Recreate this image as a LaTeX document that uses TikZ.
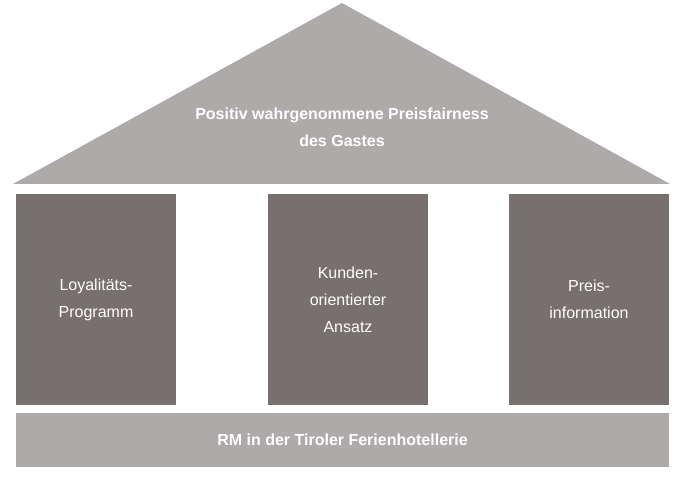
\documentclass[tikz,border=0pt]{standalone}
\usepackage{fontspec}
\setmainfont{Liberation Sans}
\definecolor{rooffill}{HTML}{AEAAA9}
\definecolor{pillarfill}{HTML}{78706F}
\tikzset{
  pillar/.style={fill=pillarfill, minimum width=160pt, minimum height=211pt,
                 inner sep=0pt, text=white, align=center,
                 font=\fontsize{16}{27}\selectfont},
  basebox/.style={fill=rooffill, minimum width=653pt, minimum height=54pt,
                  inner sep=0pt, text=white, font=\bfseries\fontsize{16}{27}\selectfont},
  rooftext/.style={text=white, align=center, font=\bfseries\fontsize{16}{27}\selectfont},
}

\begin{document}
\begin{tikzpicture}[x=1pt, y=-1pt]
    \useasboundingbox (0,0) rectangle (683,478);
    % roof
    \fill[rooffill] (13,184) -- (342,3) -- (670,184) -- cycle;
    \node[rooftext] (roof) at (342,127) {Positiv wahrgenommene Preisfairness\\des Gastes};
    % pillars
    \node[pillar] (p1) at (96,299.5) {Loyalitäts-\\Programm};
    \node[pillar] (p2) at (348,299.5) {Kunden-\\orientierter\\Ansatz};
    \node[pillar] (p3) at (589,299.5) {Preis-\\information};
    % base
    \node[basebox] (base) at (342.5,440) {RM in der Tiroler Ferienhotellerie};
  \end{tikzpicture}
\end{document}
